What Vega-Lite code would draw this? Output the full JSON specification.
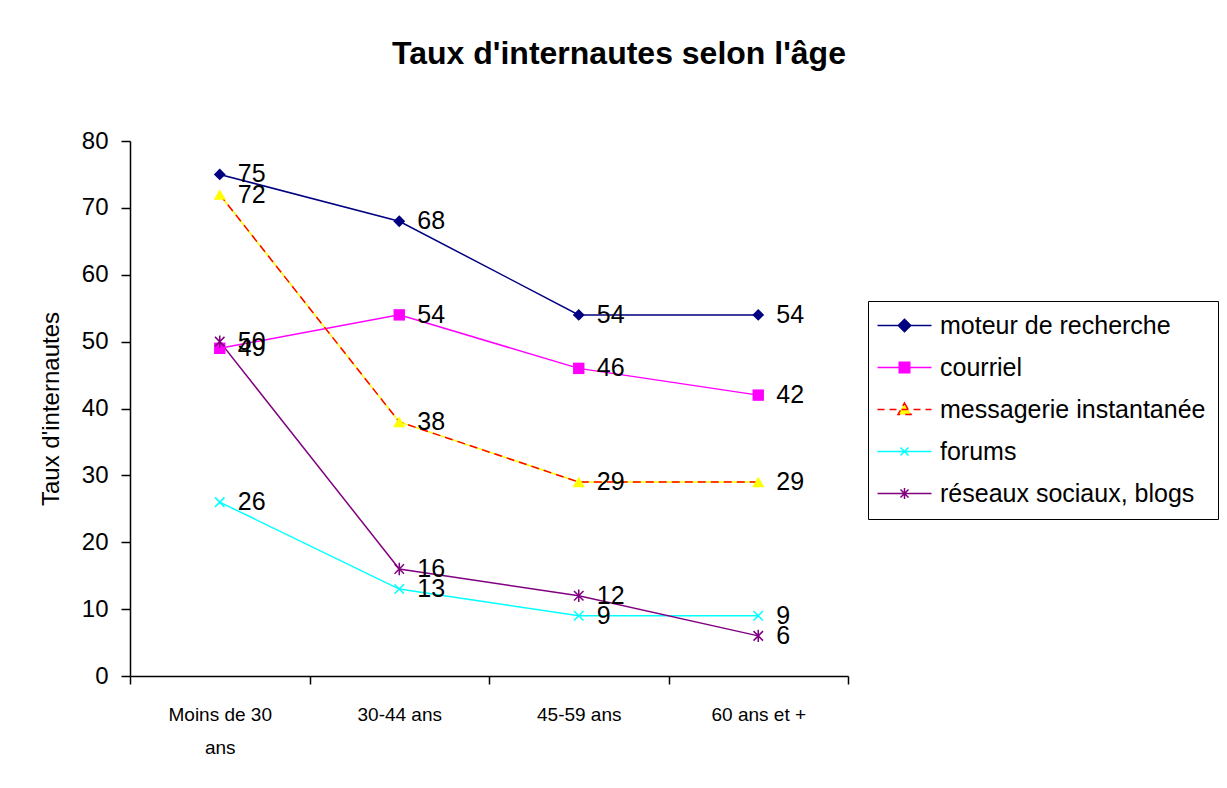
{
  "$schema": "https://vega.github.io/schema/vega-lite/v6.json",
  "autosize": {"type": "none"},
  "padding": {"left": 130, "top": 141, "right": 379, "bottom": 112},
  "width": 718,
  "height": 535,
  "background": "white",
  "config": {
    "font": "Liberation Sans",
    "view": {"stroke": null}
  },
  "title": {
    "text": "Taux d'internautes selon l'âge",
    "fontSize": 32,
    "fontWeight": "bold",
    "color": "black",
    "anchor": "middle",
    "frame": "group",
    "dx": 130,
    "offset": 58
  },
  "data": {
    "values": [
      {"age": "Moins de 30 ans", "serie": "moteur de recherche", "v": 75},
      {"age": "30-44 ans", "serie": "moteur de recherche", "v": 68},
      {"age": "45-59 ans", "serie": "moteur de recherche", "v": 54},
      {"age": "60 ans et +", "serie": "moteur de recherche", "v": 54},
      {"age": "Moins de 30 ans", "serie": "courriel", "v": 49},
      {"age": "30-44 ans", "serie": "courriel", "v": 54},
      {"age": "45-59 ans", "serie": "courriel", "v": 46},
      {"age": "60 ans et +", "serie": "courriel", "v": 42},
      {"age": "Moins de 30 ans", "serie": "messagerie instantanée", "v": 72},
      {"age": "30-44 ans", "serie": "messagerie instantanée", "v": 38},
      {"age": "45-59 ans", "serie": "messagerie instantanée", "v": 29},
      {"age": "60 ans et +", "serie": "messagerie instantanée", "v": 29},
      {"age": "Moins de 30 ans", "serie": "forums", "v": 26},
      {"age": "30-44 ans", "serie": "forums", "v": 13},
      {"age": "45-59 ans", "serie": "forums", "v": 9},
      {"age": "60 ans et +", "serie": "forums", "v": 9},
      {"age": "Moins de 30 ans", "serie": "réseaux sociaux, blogs", "v": 50},
      {"age": "30-44 ans", "serie": "réseaux sociaux, blogs", "v": 16},
      {"age": "45-59 ans", "serie": "réseaux sociaux, blogs", "v": 12},
      {"age": "60 ans et +", "serie": "réseaux sociaux, blogs", "v": 6}
    ]
  },
  "encoding": {
    "x": {
      "field": "age",
      "type": "nominal",
      "sort": ["Moins de 30 ans", "30-44 ans", "45-59 ans", "60 ans et +"],
      "bandPosition": 0.5,
      "scale": {"type": "band", "paddingInner": 0, "paddingOuter": 0},
      "axis": {
        "title": null,
        "labelAngle": 0,
        "tickBand": "extent",
        "tickSize": 8,
        "tickColor": "black",
        "domainColor": "black",
        "domainWidth": 1.5,
        "tickWidth": 1.5,
        "labelFontSize": 19,
        "labelColor": "black",
        "labelPadding": 21,
        "labelLineHeight": 33,
        "labelExpr": "datum.label == 'Moins de 30 ans' ? ['Moins de 30', 'ans'] : datum.label"
      }
    },
    "y": {
      "field": "v",
      "type": "quantitative",
      "scale": {"domain": [0, 80], "nice": false},
      "axis": {
        "title": "Taux d'internautes",
        "titleFontSize": 24,
        "titleFontWeight": "normal",
        "titleColor": "black",
        "titlePadding": 18,
        "values": [0, 10, 20, 30, 40, 50, 60, 70, 80],
        "grid": false,
        "tickSize": 9,
        "tickColor": "black",
        "tickWidth": 1.5,
        "domainColor": "black",
        "domainWidth": 1.5,
        "labelFontSize": 24,
        "labelColor": "black",
        "labelPadding": 13
      }
    }
  },
  "layer": [
    {
      "transform": [{"filter": "datum.serie !== 'messagerie instantanée'"}],
      "mark": {"type": "line", "strokeWidth": 1.5},
      "encoding": {
        "color": {
          "field": "serie",
          "type": "nominal",
          "scale": {
            "domain": ["moteur de recherche", "courriel", "messagerie instantanée", "forums", "réseaux sociaux, blogs"],
            "range": ["#000080", "#FF00FF", "#FF0000", "#00FFFF", "#800080"]
          },
          "legend": {
            "title": null,
            "orient": "none",
            "legendX": 738,
            "legendY": 160,
            "strokeColor": "black",
            "fillColor": "white",
            "padding": 12,
            "labelFontSize": 25,
            "labelColor": "black",
            "labelLimit": 0,
            "labelOffset": 23,
            "symbolOffset": 12,
            "rowPadding": 16,
            "symbolSize": 100,
            "symbolStrokeWidth": 1.5,
            "encode": {
              "symbols": {
                "update": {
                  "shape": {"signal": "datum.value === 'moteur de recherche' ? 'M-5.4,0L5.4,0M0,-1.25L1.25,0L0,1.25L-1.25,0Z' : datum.value === 'courriel' ? 'M-5.4,0L5.4,0M-1.05,-1.05L1.05,-1.05L1.05,1.05L-1.05,1.05Z' : datum.value === 'forums' ? 'M-5.4,0L5.4,0M-0.8,-0.8L0.8,0.8M-0.8,0.8L0.8,-0.8' : datum.value === 'réseaux sociaux, blogs' ? 'M-5.4,0L5.4,0M-0.8,-0.8L0.8,0.8M-0.8,0.8L0.8,-0.8M0,-1.1L0,1.1' : 'M-5.4,0L5.4,0M0,-1.3L1.3,1L-1.3,1Z'"},
                  "fill": {"signal": "datum.value === 'moteur de recherche' ? '#000080' : datum.value === 'courriel' ? '#FF00FF' : datum.value === 'forums' ? '#00FFFF' : datum.value === 'réseaux sociaux, blogs' ? '#800080' : '#FFFF00'"},
                  "stroke": {"signal": "datum.value === 'moteur de recherche' ? '#000080' : datum.value === 'courriel' ? '#FF00FF' : datum.value === 'forums' ? '#00FFFF' : datum.value === 'réseaux sociaux, blogs' ? '#800080' : '#FF0000'"},
                  "strokeDash": {"signal": "datum.value === 'messagerie instantanée' ? [7, 5] : []"},
                  "opacity": {"value": 1}
                }
              }
            }
          }
        }
      }
    },
    {
      "transform": [{"filter": "datum.serie === 'messagerie instantanée'"}],
      "mark": {"type": "line", "strokeWidth": 1.5, "color": "#FFFF00"},
      "encoding": {}
    },
    {
      "transform": [{"filter": "datum.serie === 'messagerie instantanée'"}],
      "mark": {"type": "line", "strokeWidth": 1.5, "color": "#FF0000", "strokeDash": [8, 5]},
      "encoding": {}
    },
    {
      "transform": [{"filter": "datum.serie === 'moteur de recherche'"}],
      "mark": {"type": "point", "shape": "diamond", "filled": true, "opacity": 1, "size": 140, "color": "#000080"},
      "encoding": {}
    },
    {
      "transform": [{"filter": "datum.serie === 'courriel'"}],
      "mark": {"type": "point", "shape": "square", "filled": true, "opacity": 1, "size": 130, "color": "#FF00FF"},
      "encoding": {}
    },
    {
      "transform": [{"filter": "datum.serie === 'messagerie instantanée'"}],
      "mark": {"type": "point", "shape": "triangle-up", "filled": true, "opacity": 1, "size": 150, "color": "#FFFF00"},
      "encoding": {}
    },
    {
      "transform": [{"filter": "datum.serie === 'forums'"}],
      "mark": {"type": "point", "shape": "M-1,-1L1,1M-1,1L1,-1", "filled": false, "opacity": 1, "size": 90, "strokeWidth": 1.5, "color": "#00FFFF"},
      "encoding": {}
    },
    {
      "transform": [{"filter": "datum.serie === 'réseaux sociaux, blogs'"}],
      "mark": {"type": "point", "shape": "M-1,-1L1,1M-1,1L1,-1M0,-1.3L0,1.3", "filled": false, "opacity": 1, "size": 90, "strokeWidth": 1.5, "color": "#800080"},
      "encoding": {}
    },
    {
      "mark": {"type": "text", "align": "left", "baseline": "middle", "dx": 18, "fontSize": 25, "color": "black"},
      "encoding": {
        "text": {"field": "v", "type": "quantitative"}
      }
    }
  ]
}
